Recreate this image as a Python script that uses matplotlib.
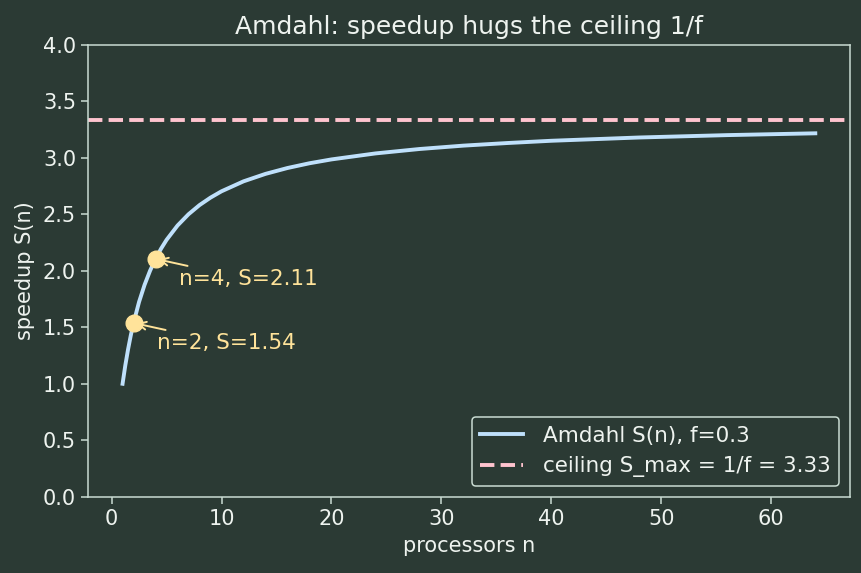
import matplotlib
matplotlib.use("Agg")
import matplotlib.pyplot as plt

# values (speedup curve, f = 0.3)
n_vals = [1, 1.25, 1.5, 1.75, 2, 2.5, 3, 3.5, 4, 4.5, 5, 6, 7, 8, 9, 10, 12, 14, 16,
          18, 20, 24, 28, 32, 36, 40, 48, 56, 64]
s_vals = [1.0, 1.163, 1.304, 1.429, 1.538, 1.724, 1.875, 2.0, 2.105, 2.195, 2.273,
          2.4, 2.5, 2.581, 2.647, 2.703, 2.791, 2.857, 2.909, 2.951, 2.985, 3.038,
          3.077, 3.107, 3.13, 3.15, 3.179, 3.2, 3.216]
ceiling = 3.333
mark_n = [2, 4]
mark_s = [1.538, 2.105]
mark_labels = ["n=2, S=1.54", "n=4, S=2.11"]

bg = "#2b3a34"
fg = "#c9dbd2"
txt = "#eef3ef"
yel = "#ffe39a"

fig, ax = plt.subplots(figsize=(8.62, 5.73), dpi=100)
fig.patch.set_facecolor(bg)
ax.set_facecolor(bg)

ax.plot(n_vals, s_vals, color="#bfe0fb", lw=2.8, label="Amdahl S(n), f=0.3")
ax.axhline(ceiling, color="#ffc4cf", lw=2.8, ls="--", label="ceiling S_max = 1/f = 3.33")
ax.plot(mark_n, mark_s, "o", color=yel, ms=12, zorder=5)
for x, y, lab in zip(mark_n, mark_s, mark_labels):
    ax.annotate(lab, xy=(x, y), xytext=(17, -19), textcoords="offset points",
                color=yel, fontsize=15.5,
                arrowprops=dict(arrowstyle="->", color=yel, lw=1.4, mutation_scale=14))

ax.set_ylim(0, 4)
ax.set_title("Amdahl: speedup hugs the ceiling 1/f", color=txt, fontsize=18, pad=8)
ax.set_xlabel("processors n", color=txt, fontsize=15, labelpad=5.6)
ax.set_ylabel("speedup S(n)", color=txt, fontsize=15, labelpad=5.6)
ax.tick_params(colors=fg, labelcolor=txt, labelsize=15, length=5, width=1.1)
for sp in ax.spines.values():
    sp.set_color(fg)
    sp.set_linewidth(1.1)

leg = ax.legend(loc="lower right", facecolor=bg, edgecolor=fg, fontsize=15.5,
                framealpha=1, handletextpad=0.9)
leg.get_frame().set_linewidth(1.1)
for t in leg.get_texts():
    t.set_color(txt)

fig.subplots_adjust(left=0.102, right=0.986, top=0.922, bottom=0.133)
fig.savefig("out.png", dpi=100, facecolor=bg)
